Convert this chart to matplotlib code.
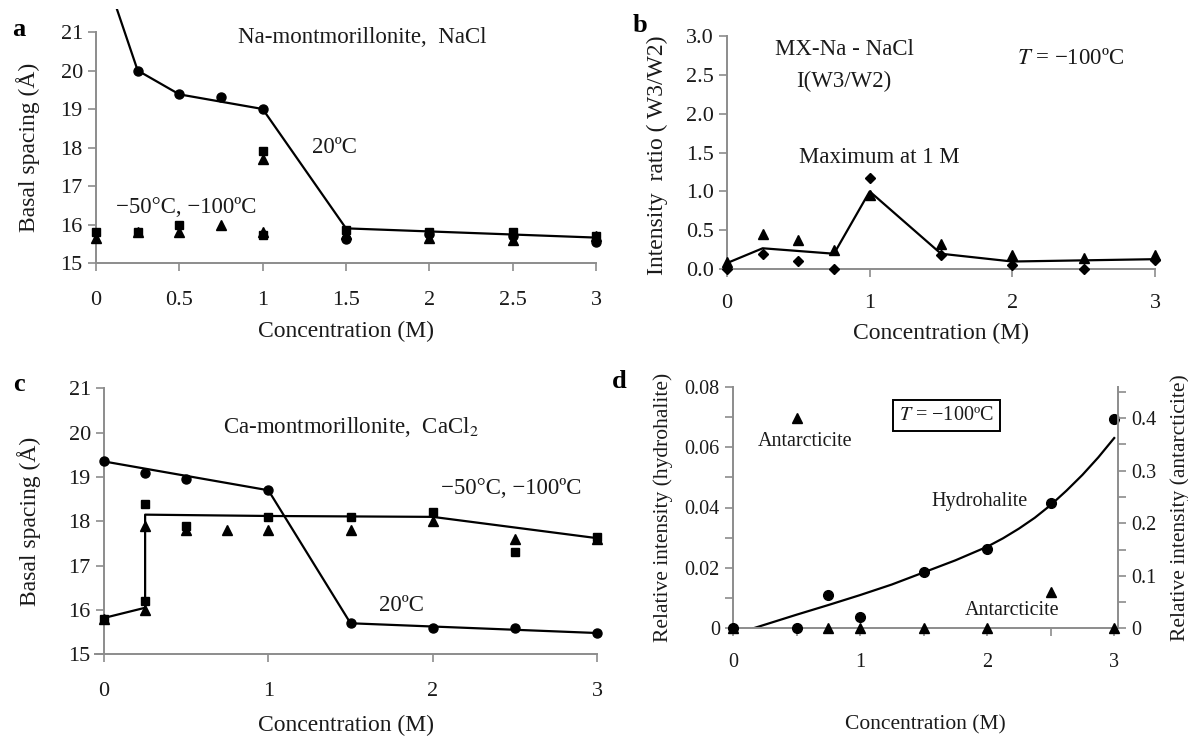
import matplotlib
matplotlib.use("Agg")
from matplotlib import pyplot as plt
from matplotlib.ticker import MultipleLocator, FormatStrFormatter, FuncFormatter

plt.rcParams['font.family'] = ['Liberation Serif', 'DejaVu Serif']
plt.rcParams['mathtext.fontset'] = 'stix'

# ---- panel a : Na-montmorillonite, NaCl ----
a_circ_x = [0.25, 0.5, 0.75, 1, 1.5, 2, 2.5, 3]
a_circ_y = [20.0, 19.4, 19.3, 19.0, 15.62, 15.75, 15.7, 15.55]
a_line_x = [0, 0.25, 0.5, 1, 1.5, 3]
a_line_y = [23.2, 20.0, 19.38, 19.0, 15.9, 15.66]
a_sq_x = [0, 0.25, 0.5, 1, 1, 1.5, 2, 2.5, 3]
a_sq_y = [15.8, 15.8, 16.0, 17.9, 15.72, 15.85, 15.8, 15.8, 15.7]
a_tri_x = [0, 0.25, 0.5, 0.75, 1, 1, 1.5, 2, 2.5, 3]
a_tri_y = [15.65, 15.8, 15.8, 16.0, 17.7, 15.8, 15.75, 15.65, 15.6, 15.7]

# ---- panel b : intensity ratio W3/W2 ----
b_tri_x = [0, 0.25, 0.5, 0.75, 1, 1.5, 2, 2.5, 3]
b_tri_y = [0.1, 0.45, 0.37, 0.25, 0.95, 0.33, 0.18, 0.15, 0.18]
b_dia_x = [0, 0.25, 0.5, 0.75, 1, 1.5, 2, 2.5, 3]
b_dia_y = [0.0, 0.2, 0.11, 0.0, 1.17, 0.18, 0.05, 0.0, 0.12]
b_line_x = [0, 0.25, 0.75, 1, 1.5, 2, 3]
b_line_y = [0.08, 0.27, 0.2, 1.0, 0.2, 0.1, 0.13]

# ---- panel c : Ca-montmorillonite, CaCl2 ----
c_circ_x = [0, 0.25, 0.5, 1, 1.5, 2, 2.5, 3]
c_circ_y = [19.35, 19.1, 18.95, 18.7, 15.7, 15.6, 15.6, 15.48]
c_line20_x = [0, 1, 1.5, 3]
c_line20_y = [19.35, 18.7, 15.7, 15.48]
c_sq_x = [0, 0.25, 0.25, 0.5, 1, 1.5, 2, 2.5, 3]
c_sq_y = [15.8, 16.2, 18.4, 17.9, 18.1, 18.1, 18.2, 17.3, 17.65]
c_tri_x = [0, 0.25, 0.25, 0.5, 0.75, 1, 1.5, 2, 2.5, 3]
c_tri_y = [15.8, 16.0, 17.9, 17.8, 17.8, 17.8, 17.8, 18.0, 17.6, 17.6]
c_linelow_x = [0, 0.25, 0.25, 1, 2, 3]
c_linelow_y = [15.82, 16.05, 18.15, 18.12, 18.1, 17.62]

# ---- panel d : hydrohalite / antarcticite ----
d_hyd_x = [0, 0.5, 0.75, 1, 1.5, 2, 2.5, 3]
d_hyd_y = [0.0, 0.0, 0.011, 0.0036, 0.0187, 0.0263, 0.0414, 0.0692]
d_fit_x = [0.16, 0.5, 0.75, 1.0, 1.25, 1.5, 1.75, 2.0, 2.125, 2.25, 2.375,
           2.5, 2.625, 2.75, 2.875, 3.0]
d_fit_y = [0.0, 0.0045, 0.0077, 0.011, 0.0145, 0.0185, 0.0225, 0.027, 0.0298, 0.033, 0.0366,
           0.0408, 0.0456, 0.0508, 0.0566, 0.063]
d_ant_x = [0, 0.5, 0.75, 1, 1.5, 2, 2.5, 3]
d_ant_y = [0.0, 0.40, 0.0, 0.0, 0.0, 0.0, 0.07, 0.0]

W, H = 1188, 737
GREY = '#8c8c8c'
TXT = '#1a1a1a'


def px_axes(left, right, top, bottom):
    return [left / W, 1 - bottom / H, (right - left) / W, (bottom - top) / H]


def style(ax, fs):
    for s in ['top', 'right']:
        ax.spines[s].set_visible(False)
    for s in ['left', 'bottom']:
        ax.spines[s].set_color(GREY)
        ax.spines[s].set_linewidth(1.4)
    ax.tick_params(which='both', direction='out', color=GREY, width=1.2,
                   labelsize=fs, labelcolor=TXT, length=6)


fig = plt.figure(figsize=(11.88, 7.37), dpi=100)
gfmt = FuncFormatter(lambda v, p: ('%g' % v))

# ----- a -----
ax = fig.add_axes(px_axes(96, 596, 8.9, 263))
style(ax, 16)
ax.plot(a_line_x, a_line_y, color='black', lw=1.6, zorder=2)
ax.plot(a_circ_x, a_circ_y, 'o', color='black', ms=6.5, zorder=3, clip_on=False)
ax.plot(a_sq_x, a_sq_y, 's', color='black', ms=6, zorder=3, clip_on=False)
ax.plot(a_tri_x, a_tri_y, '^', color='black', ms=7, zorder=3, clip_on=False)
ax.set_xlim(0, 3)
ax.set_ylim(15, 21.6)
ax.spines['left'].set_bounds(15, 21)
ax.xaxis.set_major_locator(MultipleLocator(0.5))
ax.xaxis.set_major_formatter(gfmt)
ax.set_yticks(range(15, 22))
ax.tick_params(axis='x', pad=14)
ax.set_ylabel('Basal spacing (Å)', fontsize=17, color=TXT)
ax.yaxis.set_label_coords(-0.112, 0.5 * 6 / 6.6)
ax.set_xlabel('Concentration (M)', fontsize=17, color=TXT, labelpad=8)
ax.text(1.6, 20.85, 'Na-montmorillonite,  NaCl', fontsize=16.5, ha='center', va='center', color=TXT)
ax.text(1.43, 17.99, '20ºC', fontsize=16.5, ha='center', va='center', color=TXT)
ax.text(0.54, 16.45, '−50°C, −100ºC', fontsize=16.5, ha='center', va='center', color=TXT)
fig.text(19 / W, 1 - 30 / H, 'a', fontsize=19, fontweight='bold', ha='center', va='center')

# ----- b -----
ax = fig.add_axes(px_axes(727, 1155, 35.7, 269.3))
style(ax, 16)
ax.plot(b_line_x, b_line_y, color='black', lw=1.6, zorder=2)
ax.plot(b_tri_x, b_tri_y, '^', color='black', ms=7, zorder=3, clip_on=False)
ax.plot(b_dia_x, b_dia_y, 'D', color='black', ms=5.5, zorder=3, clip_on=False)
ax.set_xlim(0, 3)
ax.set_ylim(0, 3)
ax.set_xticks([0, 1, 2, 3])
ax.yaxis.set_major_locator(MultipleLocator(0.5))
ax.yaxis.set_major_formatter(FormatStrFormatter('%.1f'))
ax.tick_params(axis='x', pad=12)
ax.set_ylabel('Intensity  ratio ( W3/W2)', fontsize=17, color=TXT)
ax.yaxis.set_label_coords(-0.138, 0.49)
ax.set_xlabel('Concentration (M)', fontsize=17, color=TXT, labelpad=7)
ax.text(0.82, 2.82, 'MX-Na - NaCl', fontsize=16.5, ha='center', va='center', color=TXT)
ax.text(0.82, 2.41, 'I(W3/W2)', fontsize=16.5, ha='center', va='center', color=TXT)
ax.text(2.41, 2.71, r'$T$ = −100ºC', fontsize=16.5, ha='center', va='center', color=TXT)
ax.text(1.07, 1.44, 'Maximum at 1 M', fontsize=16.5, ha='center', va='center', color=TXT)
fig.text(640 / W, 1 - 25 / H, 'b', fontsize=19, fontweight='bold', ha='center', va='center')

# ----- c -----
ax = fig.add_axes(px_axes(95, 597, 388.3, 654.3))
style(ax, 16)
ax.plot(c_line20_x, c_line20_y, color='black', lw=1.6, zorder=2)
ax.plot(c_linelow_x, c_linelow_y, color='black', lw=1.6, zorder=2)
ax.plot(c_circ_x, c_circ_y, 'o', color='black', ms=6.5, zorder=3, clip_on=False)
ax.plot(c_sq_x, c_sq_y, 's', color='black', ms=6, zorder=3, clip_on=False)
ax.plot(c_tri_x, c_tri_y, '^', color='black', ms=7, zorder=3, clip_on=False)
ax.set_xlim(-0.055, 3)
ax.set_ylim(15, 21)
ax.spines['left'].set_position(('data', 0))
ax.set_xticks([0, 1, 2, 3])
ax.set_yticks(range(15, 22))
ax.tick_params(axis='x', pad=14)
ax.set_ylabel('Basal spacing (Å)', fontsize=17, color=TXT)
ax.yaxis.set_label_coords(-0.108, 0.5)
ax.set_xlabel('Concentration (M)', fontsize=17, color=TXT, labelpad=10)
ax.text(1.5, 20.13, 'Ca-montmorillonite,  CaCl$_2$', fontsize=16.5, ha='center', va='center', color=TXT)
ax.text(2.48, 18.75, '−50°C, −100ºC', fontsize=16.5, ha='center', va='center', color=TXT)
ax.text(1.81, 16.11, '20ºC', fontsize=16.5, ha='center', va='center', color=TXT)
fig.text(19 / W, 1 - 385 / H, 'c', fontsize=19, fontweight='bold', ha='center', va='center')

# ----- d -----
ax = fig.add_axes(px_axes(733, 1118, 386.7, 628.3))
style(ax, 14.5)
ax.plot(d_fit_x, d_fit_y, color='black', lw=1.6, zorder=2)
ax.plot(d_hyd_x, d_hyd_y, 'o', color='black', ms=7, zorder=3, clip_on=False)
ax.set_xlim(0, 3.03)
ax.set_ylim(0, 0.08)
ax.set_xticks([0, 1, 2, 3])
ax.xaxis.set_minor_locator(MultipleLocator(0.5))
ax.yaxis.set_major_locator(MultipleLocator(0.02))
ax.yaxis.set_minor_locator(MultipleLocator(0.01))
ax.yaxis.set_major_formatter(gfmt)
ax.tick_params(axis='x', pad=12)
ax.set_ylabel('Relative intensity (hydrohalite)', fontsize=15.5, color=TXT, labelpad=8)
ax.set_xlabel('Concentration (M)', fontsize=15.5, color=TXT, labelpad=31)
ax.text(0.57, 0.0618, 'Antarcticite', fontsize=14.5, ha='center', va='center', color=TXT)
ax.text(1.94, 0.0421, 'Hydrohalite', fontsize=14.5, ha='center', va='center', color=TXT)
ax.text(2.2, 0.006, 'Antarcticite', fontsize=14.5, ha='center', va='center', color=TXT)
ax.text(1.68, 0.0706, r'$T$ = −100ºC', fontsize=14.5, ha='center', va='center', color=TXT,
        bbox=dict(boxstyle='square,pad=0.3', fc='white', ec='black', lw=1.4))

ax2 = ax.twinx()
ax2.spines['top'].set_visible(False)
ax2.spines['left'].set_visible(False)
ax2.spines['bottom'].set_visible(False)
ax2.spines['right'].set_color(GREY)
ax2.spines['right'].set_linewidth(1.4)
ax2.tick_params(which='both', direction='out', color=GREY, width=1.2, length=6,
                labelsize=14.5, labelcolor=TXT)
ax2.plot(d_ant_x, d_ant_y, '^', color='black', ms=7.5, zorder=3, clip_on=False)
ax2.set_ylim(0, 0.46)
ax2.yaxis.set_major_locator(MultipleLocator(0.1))
ax2.yaxis.set_minor_locator(MultipleLocator(0.05))
ax2.yaxis.set_major_formatter(gfmt)
ax2.set_ylabel('Relative intensity (antarcticite)', fontsize=15.5, color=TXT, labelpad=10)
fig.text(619 / W, 1 - 381 / H, 'd', fontsize=19, fontweight='bold', ha='center', va='center')

fig.savefig('out.png', dpi=100)
